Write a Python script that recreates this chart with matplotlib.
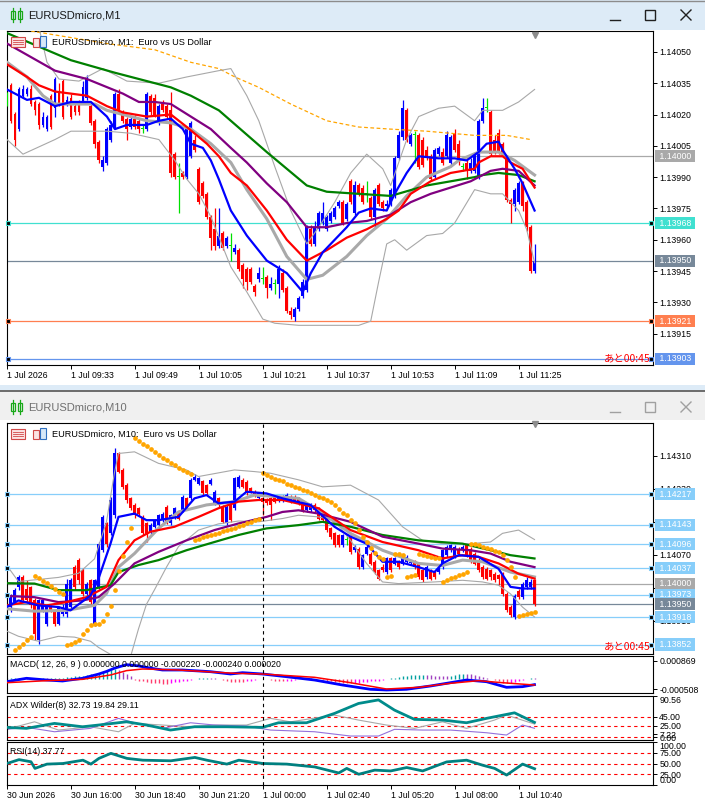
import numpy as np
import matplotlib.pyplot as plt
from matplotlib.patches import Rectangle
from matplotlib.transforms import blended_transform_factory as blend

plt.rcParams['font.family'] = ['Liberation Sans', 'DejaVu Sans']
JP = ['Noto Sans CJK JP', 'DejaVu Sans']

# ---------------- EURUSDmicro M1 (values in points above 1.13900) ----------------
m1_base = 1.13900
m1_open = [127,134,120,113,129,130,132,126,125,115, 113,129,123,131,136,125,128,124,126,126,
           128,124,117,107,95,97,108,114,130,121, 118,114,118,117,113,113,129,128,116,125,
           124,122,101,90,92,90,100,108,94,87, 82,71,65,57,63,57,57,54,55,48,
           46,46,38,41,41,42,37,39,39,44, 37,26,23,27,33,36,65,58,65,68,
           65,69,71,76,78,70,88,73,86,85, 82,80,71,86,78,76,77,81,99,109,
           122,106,110,110,108,103,100,90,101,102, 100,97,111,106,95,97,93,93,90,117,
           123,121,108,111,106,99,79,77,78,87, 78,66,45]
m1_close = [127,117,108,132,132,132,125,122,115,119, 119,114,137,125,119,127,119,121,121,133,
            137,116,106,98,98,113,115,130,122,117, 113,118,114,113,113,130,121,120,124,122,
            119,92,90,90,90,113,116,103,78,81, 71,61,57,62,56,61,57,56,46,41,
            40,40,35,44,41,37,39,39,46,36, 26,24,27,32,40,66,58,66,73,73,
            71,73,75,78,68,77,78,86,82,78, 82,71,84,77,75,77,84,99,110,123,
            108,110,110,95,96,99,89,103,104,97, 110,109,103,98,95,93,97,100,117,123,
            123,101,102,102,101,79,77,84,87,76, 66,45,50]
m1_high = [131,135,121,133,134,133,134,127,126,121, 120,130,138,135,137,129,130,126,127,136,
           139,126,118,108,100,114,117,131,132,122, 119,119,120,118,115,131,130,130,125,127,
           125,131,102,97,93,114,117,110,95,88, 83,72,75,75,64,62,63,58,56,49,
           47,47,39,47,47,43,42,41,48,46, 38,28,28,33,41,67,67,69,74,78,
           72,74,76,79,79,78,89,88,87,86, 88,81,85,87,79,79,85,100,112,127,
           123,111,112,111,109,105,101,104,105,104, 112,110,113,108,97,99,99,102,118,128,
           128,122,110,113,107,100,80,85,88,88, 79,67,58]
m1_low = [124,116,105,112,128,129,124,120,113,114, 112,113,119,124,118,124,118,120,120,125,
          127,115,104,97,93,96,107,113,121,116, 108,113,113,111,111,112,120,119,115,121,
          118,90,89,73,89,89,99,102,77,80, 70,55,55,56,55,56,50,53,45,37,
          36,39,33,40,39,32,36,34,32,35, 25,22,21,26,32,35,57,57,64,67,
          64,68,70,75,67,69,77,72,81,77, 78,70,66,76,74,75,76,80,98,108,
          107,105,97,94,95,98,88,89,100,96, 99,96,102,96,93,89,92,92,89,116,
          121,100,101,101,100,78,68,74,77,74, 64,44,44]

m1_green_x = [0,16,27,41,46,53,56,65,75,80,88,96,105,111,117,119,123,128,132]
m1_green_y = [159,146,140,133,129,122,117,102,86,83,82,81,86,88,90,91,92,91,88]
m1_purple_x = [0,12,20,29,33,37,41,46,51,56,60,65,70,75,80,85,90,96,101,106,111,116,121,124,128,132]
m1_purple_y = [154,141,137,130,126,126,125,119,113,104,97,87,78,66,66,68,69,72,78,82,85,88,93,94,93,86]
m1_red_x = [0,5,8,12,20,25,29,35,41,45,50,53,56,60,65,70,75,80,85,90,95,98,101,106,111,117,118,121,124,126,129,132]
m1_red_y = [144,138,134,131,129,124,121,119,120,114,106,100,92,86,74,60,50,55,61,65,70,74,82,88,92,94,97,100,100,97,94,85]
m1_blue_x = [0,5,8,12,16,21,25,27,30,35,38,41,44,46,49,51,53,56,60,65,70,74,76,79,82,85,88,91,95,97,
             100,103,108,112,115,118,120,123,124,127,129,132]
m1_blue_y = [132,127,128,124,126,126,119,113,115,115,117,118,113,106,104,98,89,74,62,50,44,35,44,54,60,66,73,75,74,82,
             92,100,99,99,98,102,106,107,103,94,87,74]
m1_mid_x = [0,5,9,12,16,22,25,29,35,41,46,51,56,60,65,70,75,79,85,90,95,100,105,111,113,118,123,127,132]
m1_mid_y = [145,138,129,125,125,125,122,120,117,116,113,106,97,84,70,52,41,43,52,62,70,81,90,95,98,102,102,98,91]
m1_upper_x = [7,10,13,18,24,30,38,45,53,56,60,63,67,71,75,78,82,86,90,94,96,100,103,108,112,117,119,124,128,132]
m1_upper_y = [170,145,137,136,142,136,135,138,141,142,129,117,95,74,58,66,78,92,101,94,86,108,119,123,124,117,122,122,126,132]
m1_lower_x = [0,4,12,16,25,31,38,42,45,48,51,56,60,64,67,73,81,88,91,93,95,97,100,105,109,112,117,121,124,128,130,132]
m1_lower_y = [108,101,108,112,112,111,108,98,89,82,71,47,35,22,20,19,19,19,21,40,58,60,55,62,63,68,84,82,82,74,65,49]
m1_orange_x = [6,25,37,46,53,57,63,71,80,88,96,105,111,117,125,131]
m1_orange_y = [160,154,151,145,142,138,133,125,117,114,113,112,111,110,110,108]

m1_levels = [1.14000, 1.13968, 1.13950, 1.13921, 1.13903]
m1_level_colors = ['#A9A9A9', '#40E0D0', '#778899', '#FF7F50', '#6495ED']
m1_level_marked = [False, True, False, True, True]
m1_yticks = [1.13915, 1.13930, 1.13945, 1.13960, 1.13975, 1.13990, 1.14005, 1.14020, 1.14035, 1.14050]
m1_xlabels = ['1 Jul 2026', '1 Jul 09:33', '1 Jul 09:49', '1 Jul 10:05', '1 Jul 10:21',
              '1 Jul 10:37', '1 Jul 10:53', '1 Jul 11:09', '1 Jul 11:25']

# ---------------- EURUSDmicro M10 (values in points above 1.13800) ----------------
m10_base = 1.13800
m10_open = [143,155,192,216,188,192,159,62,135,102, 143,135,102,127,127,143,240,257,232,175,
            208,102,192,281,346,322,366,516,476,439, 407,391,383,362,346,326,338,342,354,387,
            346,362,374,379,407,407,452,443,448,439, 443,395,407,387,346,391,383,435,452,447,
            431,423,407,407,403,407,411,403,403,407, 411,411,407,399,378,379,391,383,366,358,
            334,322,317,293,305,313,281,285,240,273, 273,253,232,240,228,261,248,253,248,253,
            249,253,248,232,216,232,228,228,240,269, 281,265,285,281,293,285,273,257,240,236,
            232,224,220,224,175,143,119,183,167,192, 192,208]
m10_close = [171,184,216,159,159,147,78,159,159,143, 135,102,143,143,200,208,192,208,175,200,
             155,208,297,362,297,403,516,472,435,403, 383,366,370,322,318,342,354,366,370,350,
             366,383,358,411,383,452,460,456,419,419, 452,423,391,350,387,354,456,460,435,419,
             423,415,419,399,395,391,399,407,411,415, 399,399,395,378,391,391,378,358,354,330,
             313,293,293,317,305,277,289,240,269,289, 248,228,212,232,261,232,261,240,261,265,
             253,240,216,208,240,212,216,236,281,289, 293,289,273,289,269,253,248,232,216,212,
             216,208,212,175,135,123,171,167,200,208, 204,150]
m10_high = [175,190,220,222,208,195,165,162,164,148, 148,137,146,150,210,213,245,262,237,205,
            212,212,300,366,350,410,529,520,480,445, 410,395,386,366,350,346,358,370,374,392,
            370,387,378,415,410,456,466,460,452,443, 456,427,411,390,391,395,460,464,456,451,
            435,427,423,411,407,411,415,411,415,419, 415,415,411,403,395,395,395,387,370,362,
            338,326,321,321,321,317,293,289,273,293, 277,257,236,248,265,265,265,257,265,269,
            257,257,252,236,244,236,232,240,285,293, 297,293,289,293,297,289,277,261,244,240,
            236,228,224,228,179,147,175,187,204,216, 212,212]
m10_low = [131,150,185,155,155,140,62,54,130,98, 130,98,100,122,120,138,185,200,170,170,
           150,98,188,277,290,318,360,468,430,395, 378,360,365,318,300,320,334,338,350,345,
           342,358,354,375,378,403,448,440,415,415, 440,390,387,346,342,350,378,432,431,415,
           419,411,403,366,390,354,395,399,399,403, 395,395,391,375,375,375,374,354,350,325,
           309,289,289,289,293,273,277,236,236,269, 244,224,208,228,224,228,244,236,244,249,
           245,236,212,204,212,208,212,224,236,265, 277,261,269,277,265,249,244,228,212,208,
           208,204,196,171,131,119,115,163,163,188, 188,145]

m10_green_x = [0,7,13,20,26,28,33,38,45,52,58,65,73,79,86,94,103,114,121,126,132]
m10_green_y = [201,200,184,184,196,228,245,257,281,301,318,334,342,350,338,318,305,297,281,269,261]
m10_purple_x = [0,7,13,19,23,27,32,38,45,52,58,65,69,73,78,86,94,103,109,116,121,126,132]
m10_purple_y = [170,167,155,159,167,200,249,277,305,330,346,362,374,378,370,350,314,297,285,281,273,253,240]
m10_red_x = [0,5,10,15,20,25,28,32,36,42,48,53,58,63,69,78,86,94,103,109,114,118,123,128,132]
m10_red_y = [147,155,147,155,167,192,257,305,326,338,362,383,399,403,403,383,330,301,281,261,269,265,249,224,212]
m10_blue_x = [0,3,8,13,16,21,23,26,28,32,35,38,43,47,50,53,57,60,65,69,
              76,82,86,90,94,98,103,107,109,113,118,123,126,129,132]
m10_blue_y = [143,159,147,143,135,171,212,297,362,370,354,354,362,407,415,395,399,423,419,407,
              391,338,314,297,253,253,240,228,249,269,265,236,192,188,188]
m10_mid_x = [0,7,15,22,25,28,32,38,43,50,57,62,68,73,78,86,94,103,109,114,119,126,132]
m10_mid_y = [139,133,135,147,176,240,273,334,374,391,399,415,411,407,378,322,281,249,244,257,253,228,216]
m10_upper_x = [0,3,8,13,18,22,25,27,28,32,38,45,48,57,62,66,73,79,86,93,99,104,109,116,121,124,128,132]
m10_upper_y = [245,205,210,215,225,260,350,470,516,520,492,476,460,476,472,468,452,435,439,403,338,305,297,297,301,322,330,307]
m10_lower_x = [0,3,8,13,17,21,23,26,30,31,33,35,37,40,43,48,53,58,63,69,
               73,78,82,86,90,94,98,107,114,119,123,126,129,132]
m10_lower_y = [85,72,60,72,70,60,45,28,18,22,90,150,185,240,290,330,345,352,350,358,
               366,362,354,305,249,204,200,204,208,204,196,175,143,119]
m10_sar = [None, None, 38, 45, 53, 62, 71,
           218, 214, 206, 201, 193, 186, 179, 175,
           52, 54, 58, 64, 78, 88, 100, 101, 101, 110, 125, 145, 185, 230, 268, 301, 334,
           553, 546, 540, 533, 526, 519, 512, 505, 499, 493, 487, 481, 476, 470, 465,
           306, 309, 312, 315, 318, 321, 324, 327, 330, 333, 336, 339, 342, 346, 350, 354, 358,
           468, 463, 459, 454, 451, 448, 443, 439, 435, 431, 427, 424, 420, 416, 411, 407,
           402, 399, 392, 381, 372, 366, 355, 346, 330, 314, 300, 287, 274, 265, 260,
           216, 219, 271, 271, 269, 216, 219, 222, 272, 270, 268, 265, 263, 262,
           205, 209, 213, 217, 221, 224, 227,
           297, 295, 293, 290, 286, 283, 280, 277, 270, 258, 240, 216,
           122, 123, 125, 128, 131]

m10_levels = [1.14217, 1.14143, 1.14096, 1.14037, 1.14000, 1.13973, 1.13950, 1.13918, 1.13852]
m10_level_colors = ['#87CEFA', '#87CEFA', '#87CEFA', '#87CEFA', '#A9A9A9', '#87CEFA', '#778899', '#87CEFA', '#87CEFA']
m10_level_marked = [True, True, True, True, False, True, False, True, True]
m10_yticks = [1.13910, 1.13990, 1.14070, 1.14150, 1.14230, 1.14310]
m10_xlabels = ['30 Jun 2026', '30 Jun 16:00', '30 Jun 18:40', '30 Jun 21:20', '1 Jul 00:00',
               '1 Jul 02:40', '1 Jul 05:20', '1 Jul 08:00', '1 Jul 10:40']
day_break = 64

# MACD (units of 1e-6)
macd_x = [0,5,10,14,19,23,25,27,30,33,36,39,44,51,56,59,64,70,77,84,91,95,100,106,115,120,125,129,132]
macd_y = [-138,27,-56,-104,27,230,360,520,690,630,520,431,431,349,236,301,236,105,-56,-299,-508,-542,-508,-347,-56,-138,-411,-380,-280]
signal_x = [0,10,19,26,30,34,38,43,57,64,77,86,95,103,111,118,124,132]
signal_y = [-187,-89,-23,188,400,480,460,430,270,236,76,-187,-494,-411,-216,-89,-187,-300]
macd_hist = [20,25,30,30,35,30,30,35,40,45,40,45,50,55,60,
             80,100,120,140,160,190,220,260,300,340,390,440,490,
             420,330,230,120,
             -40,-80,-120,-160,-190,-210,-220,-230,-240,
             -200,-170,-140,-110,-80,-50,-30,
             20,40,50,40,20,
             -30,-60,-100,-130,-150,-160,-170,
             -120,-80,-40,-10,
             10,-30,-60,-80,-100,-110,-100,-80,-60,
             -10,20,40,30,10,
             -20,-50,-80,-110,-140,-170,
             -190,-200,-210,-200,-190,-170,-150,-120,-100,-80,-60,
             -20,20,60,100,130,150,170,180,190,190,180,170,160,150,140,130,
             160,200,240,260,250,220,180,130,80,30,-10,
             -60,-120,-180,-220,-210,-160,-100,
             -50,-10,40,20]

# ADX Wilder(8)
adx_x = [0,5,12,19,23,30,35,41,47,55,64,68,75,82,88,93,97,102,109,115,120,127,132]
adx_y = [21.8,19.6,30.5,23.1,26.9,34,26.9,15.9,23.1,23.1,21.8,31.9,31.9,52.4,74.2,82,59.6,39.3,37.8,31.9,41.5,53.7,32.7]
minus_di_x = [0,7,13,21,28,32,39,46,52,60,66,71,82,88,95,102,109,115,122,125,132]
minus_di_y = [17.5,34,15.9,23.1,12.2,30.5,26.9,23.1,26.9,26.9,41.5,34,48.7,37.8,26.9,19.6,34,19.6,37.8,48.7,29.1]
plus_di_x = [0,5,12,21,28,32,39,46,52,60,66,77,86,93,97,104,111,120,125,129,132]
plus_di_y = [17.5,21.8,12.2,19.6,41.5,31.9,19.6,31.9,26.9,24.7,15.9,12.2,2.8,2.8,17.5,15.9,15.9,10,5,26.9,19.8]

# RSI(14)
rsi_x = [0,3,6,7,10,14,19,21,23,26,30,34,41,47,50,55,58,64,70,77,83,85,88,92,96,100,104,110,115,119,122,125,129,132]
rsi_y = [50,59,54,38.6,48.6,50,57.7,48.6,61.9,73.6,61.9,57.7,56.3,64.1,57.7,48.6,57.7,50,48.6,42,
         28,38.6,25,34.6,32.7,40.6,32.7,53.7,57.7,46,38.6,23.1,48.6,37.77]

# ---------------- drawing ----------------
W, H = 705, 800
X0, X1 = 0.125, 161.625
FS = 6.3


def box(l, t, r, b):
    return [l / W, 1 - b / H, (r - l) / W, (b - t) / H]


def pts(v, base):
    return base + np.asarray(v, dtype=float) * 1e-5


def style(ax):
    for s in ax.spines.values():
        s.set_linewidth(0.8)
        s.set_color('black')
    ax.set_xlim(X0, X1)
    ax.yaxis.tick_right()
    ax.tick_params(axis='y', length=3, width=0.7, pad=1.5, labelsize=FS)
    ax.tick_params(axis='x', length=3, width=0.7, pad=1.5, labelsize=FS)


def candles(ax, x, o, h, l, c, base, tiny):
    o, h, l, c = (pts(a, base) for a in (o, h, l, c))
    cols = np.where(c > o, '#0000FF', np.where(c < o, '#FF0000', '#00E000'))
    ax.vlines(x, l, h, colors=cols, lw=0.9, zorder=3)
    ax.bar(x, np.maximum(np.abs(c - o), tiny), bottom=np.minimum(o, c), width=0.72,
           color=cols, lw=0, zorder=3)


def tag(ax, y, fc):
    tr = blend(ax.transAxes, ax.transData)
    ax.text(1.0 + 4 / 646, y, ' %.5f ' % y, transform=tr, ha='left', va='center',
            fontsize=FS, color='white', clip_on=False, zorder=8,
            bbox=dict(boxstyle='square,pad=0.18', fc=fc, ec='none'))


def levels(ax, vals, colors, marked):
    for v, col, m in zip(vals, colors, marked):
        ax.axhline(v, color=col, lw=0.9, zorder=1)
        tag(ax, v, col)
        if m:
            ax.plot([X0 + 0.1, X1 - 0.4], [v, v], ls='none', marker='s', ms=3.2,
                    mfc='black', mec=col, mew=0.8, clip_on=False, zorder=9)


def xdates(ax, labels):
    ax.set_xticks(np.arange(len(labels)) * 16)
    ax.set_xticklabels(labels, ha='left')


fig = plt.figure(figsize=(W / 100, H / 100), dpi=100)
fig.patch.set_facecolor('white')

bg = fig.add_axes([0, 0, 1, 1])
bg.set_xlim(0, W)
bg.set_ylim(H, 0)
bg.axis('off')
bg.add_patch(Rectangle((0, 0), W, 30, fc='#DDEBF7', ec='none'))
bg.add_patch(Rectangle((0, 385), W, 5, fc='#DDEBF7', ec='none'))
bg.add_patch(Rectangle((0, 390), W, 2, fc='#6E6E6E', ec='none'))
bg.add_patch(Rectangle((0, 392), W, 28, fc='#F0F0F0', ec='none'))
bg.plot([0, W], [0.5, 0.5], color='#8C8C8C', lw=1)
bg.text(28, 15, 'EURUSDmicro,M1', fontsize=8, va='center', color='#1A1A1A')
bg.text(28, 407, 'EURUSDmicro,M10', fontsize=8, va='center', color='#707070')
for y0, col in ((15, '#18A818'), (407, '#18A818')):
    for cx in (12.5, 19.5):
        bg.add_patch(Rectangle((cx - 2, y0 - 4), 4, 8, fc='none', ec=col, lw=0.9))
        bg.plot([cx, cx], [y0 - 7, y0 + 7], color=col, lw=0.9)
for y0, col in ((17, '#202020'), (409, '#A0A0A0')):
    bg.plot([610, 620], [y0 + 3, y0 + 3], color=col, lw=1)
    bg.add_patch(Rectangle((645, y0 - 7), 10, 10, fc='none', ec=col, lw=1))
    bg.plot([681, 691], [y0 - 7, y0 + 3], color=col, lw=1)
    bg.plot([681, 691], [y0 + 3, y0 - 7], color=col, lw=1)

# ---- top M1 chart ----
ax1 = fig.add_axes(box(7, 31, 653, 365))
style(ax1)
ax1.set_ylim(1.13900, 1.14060)
m1_x = np.arange(len(m1_open))
candles(ax1, m1_x, m1_open, m1_high, m1_low, m1_close, m1_base, 0.5e-5)
levels(ax1, m1_levels, m1_level_colors, m1_level_marked)
ax1.plot(m1_orange_x, pts(m1_orange_y, m1_base), color='#FFA500', lw=0.9, ls=(0, (3, 2)), zorder=4)
ax1.plot(m1_upper_x, pts(m1_upper_y, m1_base), color='#A8A8A8', lw=0.8, zorder=4)
ax1.plot(m1_lower_x, pts(m1_lower_y, m1_base), color='#A8A8A8', lw=0.8, zorder=4)
ax1.plot(m1_mid_x, pts(m1_mid_y, m1_base), color='#A9A9A9', lw=2.2, zorder=4)
ax1.plot(m1_green_x, pts(m1_green_y, m1_base), color='#008000', lw=1.6, zorder=5)
ax1.plot(m1_purple_x, pts(m1_purple_y, m1_base), color='#800080', lw=1.6, zorder=5)
ax1.plot(m1_red_x, pts(m1_red_y, m1_base), color='#FF0000', lw=1.6, zorder=5)
ax1.plot(m1_blue_x, pts(m1_blue_y, m1_base), color='#0000FF', lw=1.6, zorder=5)
ax1.set_yticks(m1_yticks)
ax1.set_yticklabels(['%.5f' % v for v in m1_yticks])
xdates(ax1, m1_xlabels)
ax1.plot([132], [1.14058], marker='v', color='#8C8C8C', ms=5, clip_on=False, zorder=9)

# ---- bottom M10 chart ----
ax2 = fig.add_axes(box(7, 423, 653, 654))
style(ax2)
ax2.set_ylim(pts(29, m10_base), pts(590, m10_base))
m10_x = np.arange(1, len(m10_open) + 1)
candles(ax2, m10_x, m10_open, m10_high, m10_low, m10_close, m10_base, 2.4e-5)
levels(ax2, m10_levels, m10_level_colors, m10_level_marked)
ax2.plot(m10_upper_x, pts(m10_upper_y, m10_base), color='#A8A8A8', lw=0.8, zorder=4)
ax2.plot(m10_lower_x, pts(m10_lower_y, m10_base), color='#A8A8A8', lw=0.8, zorder=4)
ax2.plot(m10_mid_x, pts(m10_mid_y, m10_base), color='#A9A9A9', lw=2.2, zorder=4)
ax2.plot(m10_green_x, pts(m10_green_y, m10_base), color='#008000', lw=1.6, zorder=5)
ax2.plot(m10_purple_x, pts(m10_purple_y, m10_base), color='#800080', lw=1.6, zorder=5)
ax2.plot(m10_red_x, pts(m10_red_y, m10_base), color='#FF0000', lw=1.6, zorder=5)
ax2.plot(m10_blue_x, pts(m10_blue_y, m10_base), color='#0000FF', lw=1.6, zorder=5)
sar = np.array(m10_sar, dtype=float)
ax2.plot(np.arange(len(sar)), pts(sar, m10_base), 'o', color='#FFA500', ms=3.4, mew=0, zorder=6)
ax2.set_yticks(m10_yticks)
ax2.set_yticklabels(['%.5f' % v for v in m10_yticks])
ax2.set_xticks([])
ax2.plot([132], [pts(587, m10_base)], marker='v', color='#8C8C8C', ms=5, clip_on=False, zorder=9)

# ---- MACD ----
ax3 = fig.add_axes(box(7, 656, 653, 693))
style(ax3)
ax3.set_ylim(-0.000688, 0.001112)
hist = np.array(macd_hist, dtype=float) * 1e-6
prev = np.concatenate([[hist[0]], hist[:-1]])
hcol = np.where(hist >= 0, np.where(hist >= prev, '#00A0A0', '#A040C0'),
                np.where(hist <= prev, '#FF3C6E', '#FF00FF'))
ax3.vlines(np.arange(len(hist)), 0, hist, colors=hcol, lw=1.0, zorder=2)
ax3.plot(macd_x, np.array(macd_y) * 1e-6, color='#0000FF', lw=2, zorder=3)
ax3.plot(signal_x, np.array(signal_y) * 1e-6, color='#FF0000', lw=1.1, zorder=4)
ax3.set_yticks([0.000869, -0.000508])
ax3.set_yticklabels(['0.000869', '-0.000508'])
ax3.set_xticks([])
ax3.text(0.005, 0.88, 'MACD( 12, 26, 9 ) 0.000000 0.000000 -0.000220 -0.000240 0.000020',
         transform=ax3.transAxes, fontsize=FS, va='top', ha='left', zorder=6)

# ---- ADX ----
ax4 = fig.add_axes(box(7, 696, 653, 740))
style(ax4)
ax4.set_ylim(-5.9, 90.56)
for lv in (45, 25, 0):
    ax4.axhline(lv, color='red', lw=0.8, ls=(0, (3, 3)), zorder=1)
ax4.plot(minus_di_x, minus_di_y, color='#A9A9A9', lw=0.8, zorder=2)
ax4.plot(plus_di_x, plus_di_y, color='#9370DB', lw=0.8, zorder=2)
ax4.plot(adx_x, adx_y, color='#008B8B', lw=2, zorder=3)
ax4.set_yticks([90.56, 45, 25, 7.22, 0])
ax4.set_yticklabels(['90.56', '45.00', '25.00', '7.22', '0.00'])
ax4.get_yticklabels()[0].set_va('top')
ax4.set_xticks([])
ax4.text(0.005, 0.88, 'ADX Wilder(8) 32.73 19.84 29.11', transform=ax4.transAxes,
         fontsize=FS, va='top', ha='left', zorder=6)

# ---- RSI ----
ax5 = fig.add_axes(box(7, 742, 653, 785))
style(ax5)
ax5.set_ylim(0, 100)
for lv in (75, 50, 25):
    ax5.axhline(lv, color='red', lw=0.8, ls=(0, (3, 3)), zorder=1)
ax5.plot(rsi_x, rsi_y, color='#008080', lw=2, zorder=3)
ax5.set_yticks([100, 75, 50, 25, 0])
ax5.set_yticklabels(['100.00', '75.00', '50.00', '25.00', '0.00'])
ax5.get_yticklabels()[0].set_va('top')
ax5.get_yticklabels()[-1].set_va('bottom')
xdates(ax5, m10_xlabels)
ax5.text(0.005, 0.88, 'RSI(14) 37.77', transform=ax5.transAxes, fontsize=FS,
         va='top', ha='left', zorder=6)

for ax in (ax2, ax3, ax4, ax5):
    ax.axvline(day_break, color='black', lw=0.8, ls=(0, (3, 3)), zorder=7)

# ---- overlay: chart headers and timers ----
ov = fig.add_axes([0, 0, 1, 1], zorder=20)
ov.set_xlim(0, W)
ov.set_ylim(H, 0)
ov.axis('off')
ov.patch.set_alpha(0)
for y0, name in ((42, 'EURUSDmicro, M1:  Euro vs US Dollar'),
                 (434, 'EURUSDmicro, M10:  Euro vs US Dollar')):
    ov.add_patch(Rectangle((11, y0 - 5), 14, 10, fc='#FBE3E3', ec='#D04848', lw=0.8))
    for k in (-2, 0, 2):
        ov.plot([13, 17.5], [y0 + k, y0 + k], color='#D04848', lw=0.6)
        ov.plot([18.5, 23], [y0 + k, y0 + k], color='#D04848', lw=0.6)
    ov.add_patch(Rectangle((33, y0 - 4), 6, 9, fc='#FBE3E3', ec='#D04848', lw=0.8))
    ov.add_patch(Rectangle((40, y0 - 6), 6, 11, fc='#D6E8F8', ec='#2F6FBF', lw=0.8))
    ov.text(52, y0, name, fontsize=6.6, va='center', ha='left')
for y0 in (358, 646):
    ov.text(651, y0, 'あと00:45', fontsize=7.5, color='red', ha='right', va='center', family=JP)

fig.savefig('out.png', dpi=100)
